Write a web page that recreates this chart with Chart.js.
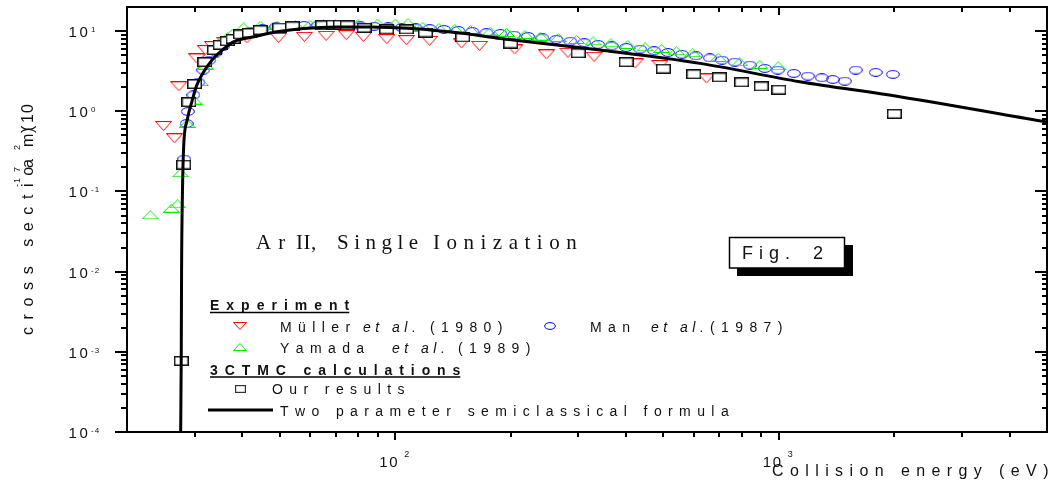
<!DOCTYPE html>
<html>
<head>
<meta charset="utf-8">
<script src="https://cdn.jsdelivr.net/npm/chart.js@4.4.1/dist/chart.umd.min.js"></script>
<style>
  html, body { margin: 0; padding: 0; background: #fff; }
</style>
</head>
<body>
<canvas id="chart" width="1059" height="486"></canvas>
<script>
// Müller et al. (1980)
const mullerE = [24.9, 26.6, 27.3, 30.4, 32.0, 33.4, 36.0, 41.1, 49.7, 58.0, 66.1, 74.6, 82.7, 95.1, 107, 123, 149, 166, 205, 248, 282, 330, 422, 490, 648];
const mullerS = [0.655, 0.461, 2.05, 4.57, 5.8, 6.5, 7.3, 8.11, 8.25, 8.49, 8.74, 8.91, 8.49, 7.95, 7.72, 7.57, 7.03, 6.56, 5.92, 5.13, 5.37, 4.79, 3.96, 3.77, 2.57];

// Yamada et al. (1989)
const yamadaE = [23.0, 26.1, 27.1, 27.6, 28.7, 29.9, 31.1, 32.0, 33.0, 34.0, 35.0, 36.5, 37.6, 40.3, 44.5, 49.2, 55, 60, 65, 70, 80, 90, 100, 108, 118, 130, 143, 157, 177, 195, 218, 239, 266, 297, 328, 365, 404, 448, 495, 541, 596, 695, 791, 892, 996];
const yamadaS = [0.051, 0.0618, 0.070, 0.171, 0.708, 1.38, 2.34, 3.77, 5.27, 6.37, 7.36, 8.49, 9.36, 11.3, 11.9, 11.9, 12.0, 12.2, 12.3, 12.3, 12.5, 12.6, 12.6, 12.7, 11.5, 11.1, 10.8, 10.5, 10.0, 9.63, 9.10, 8.66, 8.35, 7.88, 7.57, 7.15, 6.83, 6.37, 6.09, 5.68, 5.37, 4.70, 4.14, 3.85, 3.70];

// Man et al. (1987)
const manE = [28.2, 28.6, 28.8, 29.8, 30.7, 31.6, 32.8, 34.2, 35.6, 37.4, 39.5, 41.9, 45.1, 49.0, 53.3, 57.9, 63.0, 68.5, 74.5, 81.1, 88.2, 95.9, 104, 113, 123, 134, 146, 159, 173, 188, 204, 222, 242, 263, 286, 311, 338, 367, 400, 435, 473, 514, 559, 608, 661, 711, 768, 840, 919, 994, 1094, 1190, 1294, 1382, 1486, 1587, 1789, 1982];
const manS = [0.254, 0.704, 0.993, 1.60, 2.31, 3.27, 4.35, 5.48, 6.50, 7.72, 8.91, 10.0, 10.7, 11.4, 11.6, 11.8, 11.9, 11.9, 11.8, 11.6, 11.5, 11.3, 11.1, 10.96, 10.74, 10.5, 10.2, 9.91, 9.58, 9.36, 8.92, 8.59, 8.23, 7.88, 7.50, 7.17, 6.84, 6.54, 6.26, 5.97, 5.70, 5.41, 5.14, 4.91, 4.63, 4.35, 4.11, 3.77, 3.43, 3.27, 2.97, 2.75, 2.62, 2.50, 2.38, 3.27, 3.06, 2.89];

// 3CTMC, our results
const ctmcE = [27.7, 28.1, 29.0, 30.0, 31.9, 33.8, 35.0, 36.5, 37.8, 39.5, 41.7, 44.5, 50, 54, 64.7, 69, 72, 75, 83, 95, 107, 120, 150, 200, 300, 400, 500, 600, 700, 800, 900, 1000, 2000];
const ctmcS = [7.7e-4, 0.216, 1.30, 2.19, 4.11, 5.80, 6.75, 7.5, 8.0, 9.1, 9.5, 10.3, 11.1, 11.5, 11.8, 12.0, 12.0, 11.8, 11.0, 10.5, 10.5, 9.6, 8.35, 7.0, 5.3, 4.1, 3.4, 2.9, 2.65, 2.3, 2.05, 1.86, 0.93];

// two parameter semiclassical formula
const formulaE = [27.6, 27.7, 27.75, 27.9, 28.1, 28.7, 29.6, 30.4, 31.7, 33.3, 35.4, 37.9, 42.8, 49.2, 57.7, 70.5, 86.1, 111, 150, 188, 250, 342, 623, 1134, 2065, 5000];
const formulaS = [1e-4, 1e-3, 1e-2, 0.1, 0.362, 0.778, 1.38, 2.12, 3.11, 4.35, 5.80, 7.36, 8.49, 9.80, 10.8, 11.3, 11.3, 10.8, 9.4, 8.11, 6.9, 5.80, 3.96, 2.34, 1.52, 0.735];

const xMajor = [100, 1000];
const xMinor = [30, 40, 50, 60, 70, 80, 90, 200, 300, 400, 500, 600, 700, 800, 900, 2000, 3000, 4000];
const xLabels = ['2', '3'];
const yMajor = [1e-4, 1e-3, 1e-2, 1e-1, 1, 10];
const yLabels = ['-4', '-3', '-2', '-1', '0', '1'];

const pts = (xs, ys) => xs.map((x, i) => ({ x: x, y: ys[i] }));

function marker(w, h, draw) {
  const c = document.createElement('canvas');
  c.width = w; c.height = h;
  draw(c.getContext('2d'), w, h);
  return c;
}
function downTri(w, h, col) {
  return marker(w, h, (g) => {
    g.strokeStyle = col; g.lineWidth = 1;
    g.beginPath(); g.moveTo(0.5, 0.5); g.lineTo(w - 0.5, 0.5); g.lineTo(w / 2, h - 0.5); g.closePath(); g.stroke();
  });
}
function upTri(w, h, col) {
  return marker(w, h, (g) => {
    g.strokeStyle = col; g.lineWidth = 1;
    g.beginPath(); g.moveTo(w / 2, 0.5); g.lineTo(w - 0.5, h - 0.5); g.lineTo(0.5, h - 0.5); g.closePath(); g.stroke();
  });
}
function oval(w, h, col) {
  return marker(w, h, (g) => {
    g.strokeStyle = col; g.lineWidth = 1;
    g.beginPath(); g.ellipse(w / 2, h / 2, w / 2 - 0.6, h / 2 - 0.6, 0, 0, Math.PI * 2); g.stroke();
  });
}
function box(w, h, col, lw) {
  return marker(w, h, (g) => {
    g.fillStyle = '#fff'; g.fillRect(0, 0, w, h);
    g.strokeStyle = col; g.lineWidth = lw;
    g.strokeRect(lw / 2, lw / 2, w - lw, h - lw);
  });
}

const redTri = downTri(17, 10, '#ff0000');
const greenTri = upTri(17, 9, '#00f000');
const blueOval = oval(14, 9, '#0000ff');
const blackBox = box(15, 10, '#111', 1.5);

const sansFont = '"Liberation Sans", Arial, sans-serif';
const serifFont = '"Liberation Serif", "Times New Roman", serif';

function spaced(ctx, s, x, y, sp) {
  for (const ch of s) {
    ctx.fillText(ch, x, y);
    x += ctx.measureText(ch).width + sp;
  }
  return x - sp;
}

const decorations = {
  id: 'decorations',
  afterDraw(chart) {
    const { ctx, chartArea: a, scales } = chart;
    const sx = scales.x, sy = scales.y;
    ctx.save();
    ctx.strokeStyle = '#000';
    ctx.fillStyle = '#111';

    // ticks: outward on bottom/left, inward on top/right
    ctx.lineWidth = 2;
    ctx.beginPath();
    const xt = (v, len) => {
      const p = Math.round(sx.getPixelForValue(v));
      ctx.moveTo(p, a.bottom); ctx.lineTo(p, a.bottom + len);
      ctx.moveTo(p, a.top); ctx.lineTo(p, a.top + len);
    };
    xMajor.forEach(v => xt(v, 8));
    xMinor.forEach(v => xt(v, 5));
    const yt = (v, lenL, lenR) => {
      const p = Math.round(sy.getPixelForValue(v));
      ctx.moveTo(a.left - lenL, p); ctx.lineTo(a.left, p);
      ctx.moveTo(a.right - lenR, p); ctx.lineTo(a.right, p);
    };
    yMajor.forEach(v => yt(v, 12, 12));
    for (let k = -4; k <= 1; k++) {
      for (let m = 2; m <= 9; m++) {
        const v = m * Math.pow(10, k);
        if (v < 20) yt(v, 6, 5);
      }
    }
    ctx.stroke();

    // frame
    ctx.strokeRect(Math.round(a.left), Math.round(a.top), Math.round(a.right - a.left), Math.round(a.bottom - a.top));

    // y tick labels
    yMajor.forEach((v, i) => {
      const p = sy.getPixelForValue(v);
      ctx.font = '15px ' + sansFont;
      ctx.fillText('1', 68.5, p + 6);
      ctx.fillText('0', 79.5, p + 6);
      ctx.font = '8px ' + sansFont;
      spaced(ctx, yLabels[i], 91, p + 1, 1);
    });

    // x tick labels
    xMajor.forEach((v, i) => {
      const p = sx.getPixelForValue(v);
      ctx.font = '15px ' + sansFont;
      ctx.fillText('1', p - 16, 467);
      ctx.fillText('0', p - 6, 467);
      ctx.font = '9px ' + sansFont;
      ctx.fillText(xLabels[i], p + 9, 457);
    });

    // axis titles
    ctx.font = '16px ' + sansFont;
    spaced(ctx, 'Collision energy (eV)', 772, 476, 6.4);

    ctx.save();
    ctx.translate(33, 0);
    ctx.rotate(-Math.PI / 2);
    ctx.font = '16px ' + sansFont;
    spaced(ctx, 'cross sectio', -335, 0, 7.6);
    ctx.fillText('a', -168, 0);
    ctx.fillText('m', -147, 0);
    ctx.fillText(')', -133, 0);
    ctx.fillText('(', -131, 0);
    ctx.fillText('1', -123, 0);
    ctx.fillText('0', -113, 0);
    ctx.font = '9px ' + sansFont;
    spaced(ctx, '-1', -187, -13, 1);
    ctx.fillText('7', -172, -13);
    ctx.fillText('2', -150, -13);
    ctx.restore();

    // in-plot title
    ctx.font = '21px ' + serifFont;
    spaced(ctx, 'Ar', 256, 249, 7);
    spaced(ctx, 'II,', 296, 249, 0.5);
    spaced(ctx, 'Single', 337, 249, 5.5);
    spaced(ctx, 'Ionization', 433, 249, 6.5);

    // Fig. 2 box with shadow
    ctx.fillStyle = '#000';
    ctx.fillRect(845, 245, 8, 31);
    ctx.fillRect(737, 268, 116, 8);
    ctx.fillStyle = '#fff';
    ctx.fillRect(729, 237, 116, 31);
    ctx.lineWidth = 1.5;
    ctx.strokeRect(729.5, 237.5, 115, 30.5);
    ctx.fillStyle = '#111';
    ctx.font = '18px ' + sansFont;
    spaced(ctx, 'Fig.', 742, 259, 6);
    ctx.fillText('2', 813, 259);

    // legend
    ctx.lineWidth = 1.5;
    ctx.font = 'bold 14px ' + sansFont;
    let e = spaced(ctx, 'Experiment', 210, 310, 7);
    ctx.beginPath(); ctx.moveTo(210, 312.5); ctx.lineTo(e, 312.5); ctx.stroke();
    e = spaced(ctx, '3CTMC calculations', 210, 374.5, 6.9);
    ctx.beginPath(); ctx.moveTo(210, 377); ctx.lineTo(e, 377); ctx.stroke();

    const row = (parts, y) => {
      parts.forEach(([txt, x, it]) => {
        ctx.font = (it ? 'italic ' : '') + '14px ' + sansFont;
        spaced(ctx, txt, x, y, it ? 4.5 : 6.4);
      });
    };
    ctx.drawImage(downTri(14, 8, '#ff0000'), 233, 322);
    row([['Müller', 280], ['et al.', 363, true], ['(1980)', 430]], 331.5);
    ctx.drawImage(oval(12, 8, '#0000ff'), 544, 322);
    row([['Man', 590], ['et al.', 651, true], ['(1987)', 710]], 331.5);
    ctx.drawImage(upTri(14, 8, '#00f000'), 233, 343);
    row([['Yamada', 280], ['et al.', 392, true], ['(1989)', 458]], 353.3);
    ctx.drawImage(box(11, 8, '#333', 1.2), 235, 385);
    row([['Our results', 272]], 394);
    ctx.lineWidth = 3;
    ctx.beginPath(); ctx.moveTo(208, 410); ctx.lineTo(273, 410); ctx.stroke();
    row([['Two parameter semiclassical formula', 280]], 416);

    ctx.restore();
  }
};

new Chart(document.getElementById('chart'), {
  type: 'scatter',
  data: {
    datasets: [
      { label: 'Two parameter semiclassical formula', data: pts(formulaE, formulaS), showLine: true,
        borderColor: '#000', borderWidth: 3, pointRadius: 0, cubicInterpolationMode: 'monotone', clip: 0, order: 0 },
      { label: 'Our results', data: pts(ctmcE, ctmcS), pointStyle: blackBox, pointRadius: 6, order: 1 },
      { label: 'Yamada et al. (1989)', data: pts(yamadaE, yamadaS), pointStyle: greenTri, pointRadius: 6, order: 2 },
      { label: 'Man et al. (1987)', data: pts(manE, manS), pointStyle: blueOval, pointRadius: 6, order: 3 },
      { label: 'Müller et al. (1980)', data: pts(mullerE, mullerS), pointStyle: redTri, pointRadius: 6, order: 4 }
    ]
  },
  options: {
    responsive: false,
    animation: false,
    events: [],
    layout: { padding: { left: 127, right: 12, top: 7, bottom: 54 } },
    scales: {
      x: { type: 'logarithmic', min: 20, max: 5000, display: false },
      y: { type: 'logarithmic', min: 1e-4, max: 20, display: false }
    },
    plugins: { legend: { display: false }, tooltip: { enabled: false } }
  },
  plugins: [decorations]
});
</script>
</body>
</html>
